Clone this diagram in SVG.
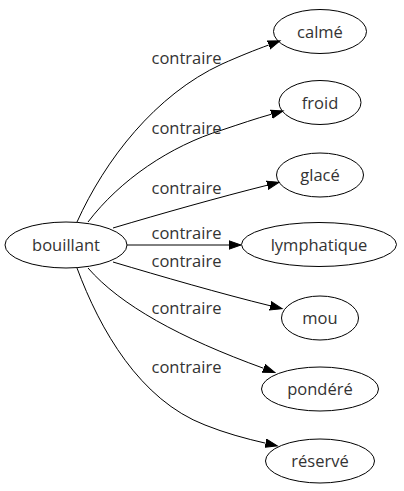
<svg xmlns="http://www.w3.org/2000/svg" width="404" height="491" viewBox="0 0 404 491">
<style>
  .node ellipse { fill: none; stroke: #000; stroke-width: 1; }
  .node text { font-family: "Open Sans", "DejaVu Sans", sans-serif; font-size: 16.5px; fill: #333; text-anchor: middle; }
  .edge path { fill: none; stroke: #000; stroke-width: 1; marker-end: url(#arrow); }
  .label { font-family: "Open Sans", "DejaVu Sans", sans-serif; font-size: 16.5px; fill: #333; text-anchor: middle; }
</style>
<defs>
  <marker id="arrow" markerUnits="userSpaceOnUse" markerWidth="14" markerHeight="10" refX="0" refY="4.5" orient="auto" viewBox="0 0 14 9">
    <polygon points="0,0.3 12,4.5 0,8.7" fill="#000" stroke="#000" stroke-width="1"/>
  </marker>
</defs>
<rect width="404" height="491" fill="#fff"/>
<g id="edges">
  <g class="edge"><path d="M77,222 C105,160 155,95 222,64 C240,56 255,50 268.7,45"/></g>
  <g class="edge"><path d="M88,222 C120,180 170,146 222,130 C240,124 256,118.5 271.5,114.2"/></g>
  <g class="edge"><path d="M113,228 C160,214 220,197 267.4,185.2"/></g>
  <g class="edge"><path d="M127,245 L229,245"/></g>
  <g class="edge"><path d="M113,262 C160,276 222,294 270.4,305.8"/></g>
  <g class="edge"><path d="M88,268 C120,305 180,338 263.6,368.3"/></g>
  <g class="edge"><path d="M77,268 C100,330 140,400 205,425 C225,433 245,438.5 265.6,443.2"/></g>
  <text class="label" x="186.5" y="63.5">contraire</text>
  <text class="label" x="186.5" y="134.3">contraire</text>
  <text class="label" x="186.5" y="194">contraire</text>
  <text class="label" x="186.5" y="239.3">contraire</text>
  <text class="label" x="186.5" y="267.3">contraire</text>
  <text class="label" x="186.5" y="314">contraire</text>
  <text class="label" x="186.5" y="373.3">contraire</text>
</g>
<g id="bouillant" class="node"><ellipse cx="66" cy="245" rx="61" ry="23"/><text x="66" y="251">bouillant</text></g>
<g id="calme" class="node"><ellipse cx="320" cy="31.5" rx="46.5" ry="22"/><text x="320" y="37.5">calmé</text></g>
<g id="froid" class="node"><ellipse cx="320" cy="102.5" rx="41" ry="22"/><text x="320" y="108.5">froid</text></g>
<g id="glace" class="node"><ellipse cx="320" cy="175" rx="43.5" ry="22"/><text x="320" y="181">glacé</text></g>
<g id="lymphatique" class="node"><ellipse cx="319" cy="244.5" rx="77.5" ry="22"/><text x="319" y="250.5">lymphatique</text></g>
<g id="mou" class="node"><ellipse cx="320" cy="318" rx="38.5" ry="22"/><text x="320" y="324">mou</text></g>
<g id="pondere" class="node"><ellipse cx="320" cy="389" rx="58.5" ry="22"/><text x="320" y="395">pondéré</text></g>
<g id="reserve" class="node"><ellipse cx="320" cy="461" rx="54.5" ry="22"/><text x="320" y="467">réservé</text></g>
</svg>
